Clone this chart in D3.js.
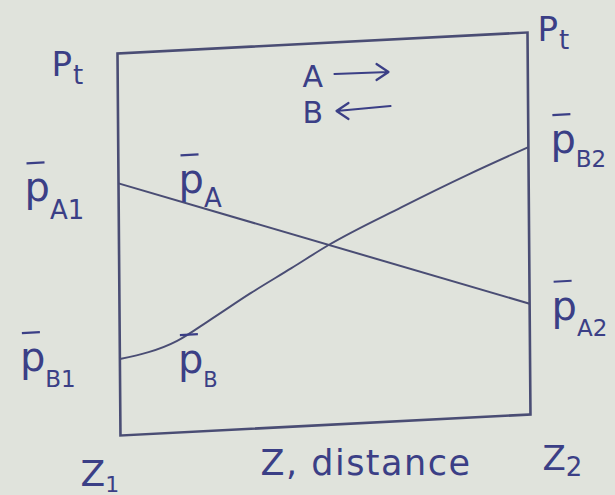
<!DOCTYPE html>
<html>
<head>
<meta charset="utf-8">
<script src="https://cdn.jsdelivr.net/npm/d3@7"></script>
<style>
  html, body { margin: 0; padding: 0; background: #e0e3dc; }
  svg { display: block; }
  text { font-family: "DejaVu Sans", sans-serif; fill: #3b3f86; }
</style>
</head>
<body>
<svg id="chart" width="615" height="495"></svg>
<script>
// Partial pressure profiles across the film, distance z1 -> z2 (fraction of film)
const distance = [0, 1];
const pA = [0.66, 0.29];                       // A diffuses towards z2
const distanceB = [0, 0.14, 0.22, 0.32, 0.42, 0.51, 0.69, 0.85, 1];
const pB = [0.20, 0.24, 0.29, 0.355, 0.415, 0.47, 0.56, 0.635, 0.70]; // B diffuses back towards z1
const pressureDomain = [0, 1];                 // 0 .. total pressure Pt

const W = 410, H = 382;
const ink = "#4a4d74";

const svg = d3.select("#chart");

const x = d3.scaleLinear().domain([0, 1]).range([0, W]);
const y = d3.scaleLinear().domain(pressureDomain).range([H, 0]);

// slightly sheared frame, like a sketch on paper
const M = { a: 1, b: -0.0512, c: 0.0078, d: 1, e: 117.5, f: 53.5 };
const toScreen = (u, v) => [M.a * u + M.c * v + M.e, M.b * u + M.d * v + M.f];
const pt = (xv, pv) => toScreen(x(xv), y(pv));

const g = svg.append("g")
  .attr("transform", `matrix(${M.a},${M.b},${M.c},${M.d},${M.e},${M.f})`);

// frame: 0..Pt vertically, z1..z2 horizontally
g.append("rect")
  .attr("x", x(0)).attr("y", y(1))
  .attr("width", x(1) - x(0)).attr("height", y(0) - y(1))
  .attr("fill", "none").attr("stroke", ink).attr("stroke-width", 2.6);

g.append("path")
  .datum(distance.map((d, i) => [d, pA[i]]))
  .attr("d", d3.line().x(d => x(d[0])).y(d => y(d[1])))
  .attr("fill", "none").attr("stroke", ink).attr("stroke-width", 2);

g.append("path")
  .datum(distanceB.map((d, i) => [d, pB[i]]))
  .attr("d", d3.line().x(d => x(d[0])).y(d => y(d[1])).curve(d3.curveMonotoneX))
  .attr("fill", "none").attr("stroke", ink).attr("stroke-width", 2);

// label helper: main symbol + subscript, optional bar over the main symbol
function label(px, py, main, sub, opts = {}) {
  const fs = opts.fs || 40, sfs = opts.sfs || 24;
  const t = svg.append("text").attr("x", px).attr("y", py)
    .style("font-size", fs + "px");
  t.append("tspan").text(main);
  if (sub) t.append("tspan").attr("dy", opts.sdy || 14).attr("dx", opts.sdx || 0)
    .style("font-size", sfs + "px").text(sub);
  if (opts.bar) {
    svg.append("line")
      .attr("x1", px + 2).attr("x2", px + 20)
      .attr("y1", py - 38).attr("y2", py - 39)
      .attr("stroke", "#3b3f86").attr("stroke-width", 2.2);
  }
}

const [a1x, a1y] = pt(0, pA[0]);
const [a2x, a2y] = pt(1, pA[1]);
const [b1x, b1y] = pt(0, pB[0]);
const [b2x, b2y] = pt(1, pB[pB.length - 1]);
const [t1x, t1y] = pt(0, 1);
const [t2x, t2y] = pt(1, 1);
const [z1x, z1y] = pt(0, 0);
const [z2x, z2y] = pt(1, 0);

label(t1x - 66, t1y + 22, "P", "t", { fs: 34, sfs: 26, sdy: 8, sdx: 1 });
label(t2x + 10, t2y + 8, "P", "t", { fs: 34, sfs: 26, sdy: 8, sdx: 1 });

label(a1x - 94, a1y + 18, "p", "A1", { bar: true, sdy: 18, sfs: 26 });
label(a1x + 60, a1y + 10, "p", "A", { bar: true, sdy: 14, sfs: 26 });
label(b2x + 22, b2y + 6, "p", "B2", { bar: true, sdy: 14, sfs: 23 });
label(a2x + 22, a2y + 16, "p", "A2", { bar: true, sdy: 16, sfs: 23 });
label(b1x - 100, b1y + 12, "p", "B1", { bar: true, sdy: 16, sfs: 23 });
label(b1x + 58, b1y + 14, "p", "B", { bar: true, sdy: 14, sfs: 21 });

label(z1x - 40, z1y + 50, "Z", "1", { fs: 36, sfs: 22, sdy: 6 });
label(z2x + 12, z2y + 55, "Z", "2", { fs: 34, sfs: 26, sdy: 6 });
svg.append("text").attr("x", (z1x + z2x) / 2 - 65).attr("y", (z1y + z2y) / 2 + 50)
  .style("font-size", "35px").style("letter-spacing", "1.5px").text("Z, distance");

// direction of diffusion for each component
const cx = pt(0.5, 1);
svg.append("text").attr("x", cx[0] - 20).attr("y", cx[1] + 44)
  .style("font-size", "30px").text("A");
svg.append("text").attr("x", cx[0] - 20).attr("y", cx[1] + 80)
  .style("font-size", "30px").text("B");
const arrow = (x1, y1, x2, y2) => {
  const dir = Math.sign(x2 - x1);
  svg.append("path")
    .attr("d", `M${x1},${y1}L${x2},${y2}M${x2 - dir * 12},${y2 - 8}L${x2},${y2}L${x2 - dir * 12},${y2 + 8}`)
    .attr("fill", "none").attr("stroke", "#3b3f86").attr("stroke-width", 2.2)
    .attr("stroke-linecap", "round").attr("stroke-linejoin", "round");
};
arrow(cx[0] + 12, cx[1] + 31, cx[0] + 66, cx[1] + 29);
arrow(cx[0] + 68, cx[1] + 63, cx[0] + 14, cx[1] + 68);
</script>
</body>
</html>
